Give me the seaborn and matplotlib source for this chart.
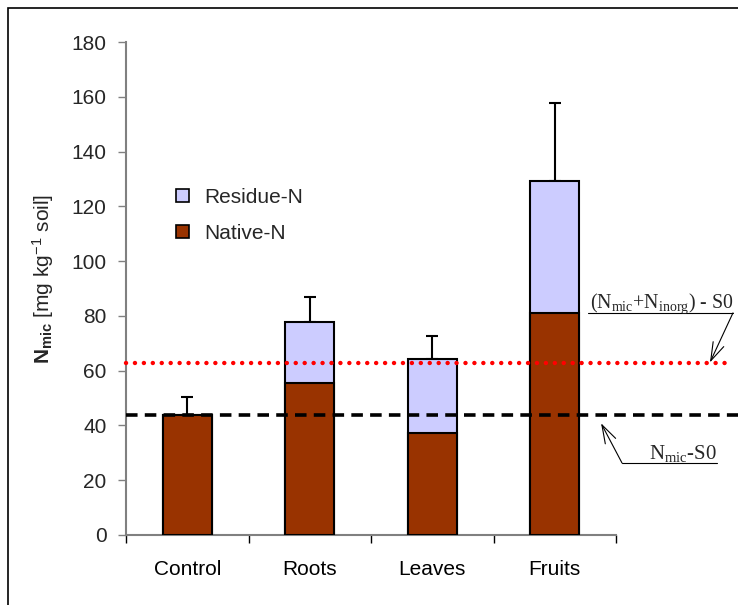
import matplotlib
matplotlib.use("Agg")
import matplotlib.pyplot as plt
from matplotlib.patches import Patch, Rectangle
import seaborn as sns
import pandas as pd
import numpy as np

# Microbial N per residue treatment (mg N per kg soil)
treatments = ["Control", "Roots", "Leaves", "Fruits"]
native_n = [43.8, 55.5, 37.2, 81.2]
total_n = [43.8, 77.7, 64.4, 129.4]
err_up = [6.7, 9.1, 8.4, 28.2]
y_ticks = [0, 20, 40, 60, 80, 100, 120, 140, 160, 180]

# Reference levels
nmic_ninorg_s0 = 62.7
nmic_s0 = 43.8

native_col = "#993300"
residue_col = "#CCCCFF"

sns.set_theme(style="white")
plt.rcParams["font.family"] = ["Liberation Sans", "DejaVu Sans"]
plt.rcParams["mathtext.fontset"] = "custom"
plt.rcParams["mathtext.rm"] = "Liberation Serif"
plt.rcParams["mathtext.it"] = "Liberation Serif:italic"
plt.rcParams["mathtext.bf"] = "Liberation Sans:bold"
plt.rcParams["mathtext.sf"] = "Liberation Sans"

df = pd.DataFrame({"treatment": treatments, "native": native_n, "total": total_n})

fig = plt.figure(figsize=(7.38, 6.05), dpi=100)
W, H = 738, 605
ax = fig.add_axes([126 / W, 1 - 535 / H, (616 - 126) / W, (535 - 42) / H])

sns.barplot(data=df, x="treatment", y="total", color=residue_col, saturation=1,
            width=0.4, edgecolor="black", linewidth=1.5, errorbar=None, ax=ax, zorder=2)
sns.barplot(data=df, x="treatment", y="native", color=native_col, saturation=1,
            width=0.4, edgecolor="black", linewidth=1.5, errorbar=None, ax=ax, zorder=3)

xpos = np.arange(len(treatments))
ax.errorbar(xpos, total_n, yerr=[np.zeros(len(err_up)), err_up], fmt="none",
            ecolor="black", elinewidth=1.5, capsize=4, capthick=1.5, zorder=1)

# Reference lines, running past the plot area
ax.hlines(nmic_ninorg_s0, -0.5, 4.43, colors="red", linewidth=3.2,
          linestyles=(0, (0.01, 2.0)), capstyle="round", clip_on=False, zorder=5)
ax.hlines(nmic_s0, -0.5, 4.50, colors="black", linewidth=2.6,
          linestyles=(0, (3.2, 2.0)), clip_on=False, zorder=5)

ax.set_xlim(-0.5, 3.5)
ax.set_ylim(0, 180)
ax.set_yticks(y_ticks)
ax.set_yticklabels([str(v) for v in y_ticks], fontsize=15)
ax.set_xticks(xpos)
ax.set_xticklabels(treatments, fontsize=15)
ax.set_xticks(np.arange(-0.5, 4.0, 1.0), minor=True)
ax.tick_params(axis="x", which="major", length=0, pad=18, colors="black")
ax.tick_params(axis="x", which="minor", length=6, width=1, color="black", direction="out", bottom=True)
ax.tick_params(axis="y", length=6, width=1, color="#808080", pad=8, left=True, direction="out")
ax.set_xlabel("")
ax.set_ylabel("")

for side in ["top", "right"]:
    ax.spines[side].set_visible(False)
for side in ["left", "bottom"]:
    ax.spines[side].set_color("#808080")
    ax.spines[side].set_linewidth(1.5)

fig.text(43 / W, 1 - 279 / H, r"$\mathbf{N_{mic}}$ [mg kg$^{\mathsf{-1}}$ soil]",
         rotation=90, ha="center", va="center", fontsize=15)

handles = [Patch(facecolor=residue_col, edgecolor="black", linewidth=1.2, label="Residue-N"),
           Patch(facecolor=native_col, edgecolor="black", linewidth=1.2, label="Native-N")]
ax.legend(handles=handles, loc="upper left", bbox_to_anchor=(0.103, 0.704),
          frameon=False, fontsize=15, handlelength=0.6, handleheight=0.6,
          handletextpad=0.75, labelspacing=0.82, borderpad=0, borderaxespad=0)

# Annotations for the reference levels
ax.text(3.285, 81.1 + 1.6, r"$\mathrm{(N_{mic}{+}N_{inorg})}$ - S0", family="Liberation Serif",
        fontsize=14.3, ha="left", va="baseline", clip_on=False)
ax.plot([3.27, 4.455], [81.1, 81.1], color="black", linewidth=0.8, clip_on=False)
ax.annotate("", xy=(4.267, nmic_ninorg_s0 + 0.3), xytext=(4.455, 81.1),
            arrowprops=dict(arrowstyle="->,head_length=1.1,head_width=0.35",
                            color="black", linewidth=0.8, shrinkA=0, shrinkB=0),
            annotation_clip=False)

ax.text(4.324, 26.3 + 1.6, r"$\mathrm{N_{mic}}$-S0", family="Liberation Serif",
        fontsize=15, ha="right", va="baseline", clip_on=False)
ax.plot([3.549, 4.324], [26.3, 26.3], color="black", linewidth=0.8, clip_on=False)
ax.annotate("", xy=(3.378, nmic_s0 - 3.0), xytext=(3.549, 26.3),
            arrowprops=dict(arrowstyle="->,head_length=1.1,head_width=0.35",
                            color="black", linewidth=0.8, shrinkA=0, shrinkB=0),
            annotation_clip=False)

# Frame around the figure
fig.add_artist(Rectangle((8 / W, -0.1), 1.2, 1.1 - 8 / H, transform=fig.transFigure,
                         fill=False, edgecolor="black", linewidth=1.2))

fig.savefig("out.png", dpi=100)
